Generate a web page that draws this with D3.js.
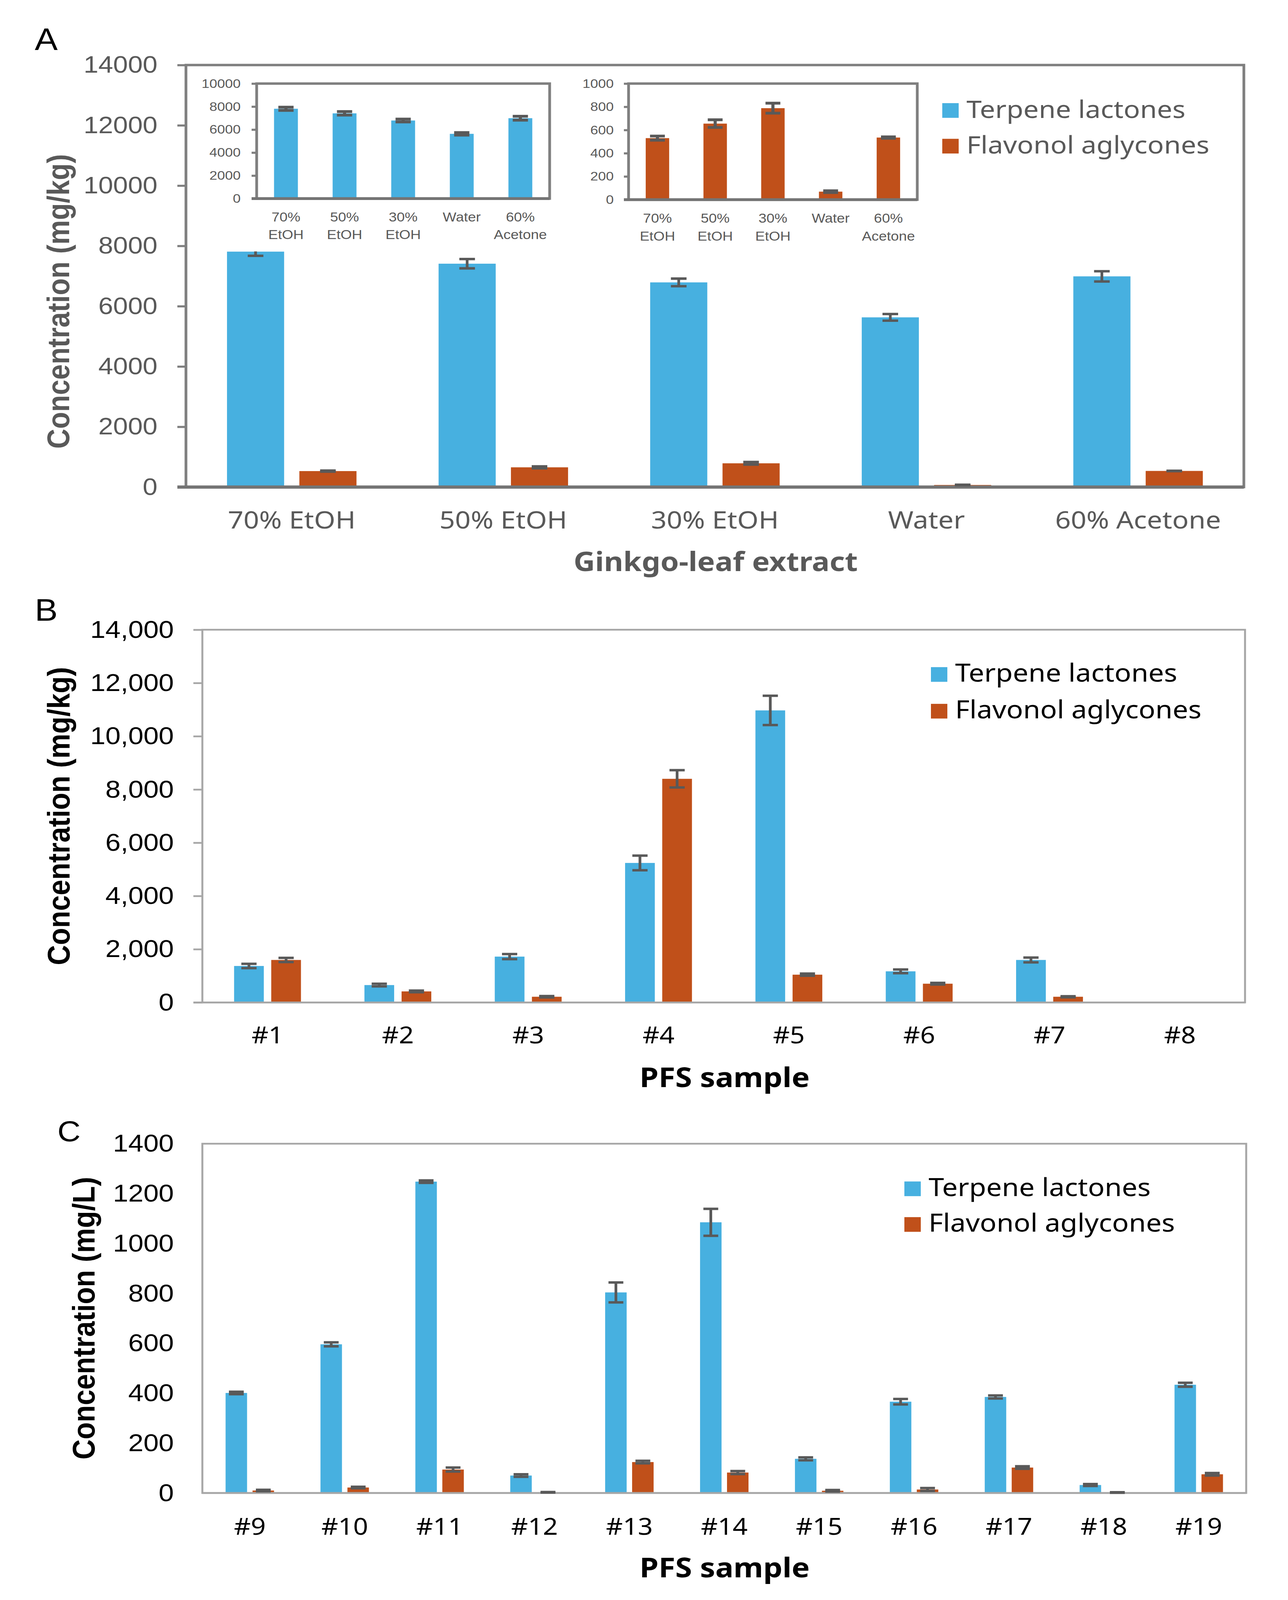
<!DOCTYPE html>
<html>
<head>
<meta charset="utf-8">
<script src="https://cdn.jsdelivr.net/npm/d3@7"></script>
<style>
  html, body { margin: 0; padding: 0; background: #ffffff; overflow: hidden; }
  svg { display: block; }
</style>
</head>
<body>
<svg id="fig"></svg>
<script>
// ---------------- DATA ----------------
const seriesNames = ["Terpene lactones", "Flavonol aglycones"];

// Panel A – Ginkgo-leaf extracts (mg/kg)
const extractCategories = ["70% EtOH", "50% EtOH", "30% EtOH", "Water", "60% Acetone"];
const extractInsetLine1 = ["70%", "50%", "30%", "Water", "60%"];
const extractInsetLine2 = ["EtOH", "EtOH", "EtOH", "", "Acetone"];
const extractTerpene    = [7810, 7410, 6790, 5630, 6990];
const extractTerpeneErr = [140, 155, 125, 110, 170];
const extractFlavonol    = [530, 655, 788, 69, 535];
const extractFlavonolErr = [18, 33, 43, 8, 6];
const extractTicks       = [0, 2000, 4000, 6000, 8000, 10000, 12000, 14000];
const extractInsetTTicks = [0, 2000, 4000, 6000, 8000, 10000];
const extractInsetFTicks = [0, 200, 400, 600, 800, 1000];

// Panel B – PFS samples #1–#8 (mg/kg)
const solidCategories   = ["#1", "#2", "#3", "#4", "#5", "#6", "#7", "#8"];
const solidTerpene      = [1370, 653, 1722, 5240, 10970, 1169, 1596, null];
const solidTerpeneErr   = [80, 50, 95, 275, 550, 70, 90, null];
const solidFlavonol     = [1596, 415, 214, 8400, 1043, 704, 214, null];
const solidFlavonolErr  = [80, 30, 25, 325, 40, 30, 20, null];
const solidTicks        = [0, 2000, 4000, 6000, 8000, 10000, 12000, 14000];

// Panel C – PFS samples #9–#19 (mg/L)
const liquidCategories  = ["#9", "#10", "#11", "#12", "#13", "#14", "#15", "#16", "#17", "#18", "#19"];
const liquidTerpene     = [401, 596, 1248, 70, 804, 1085, 137, 366, 385, 32, 434];
const liquidTerpeneErr  = [5, 8, 5, 5, 40, 54, 6, 11, 6, 4, 8];
const liquidFlavonol    = [10, 22, 94, 3, 124, 82, 9, 14, 102, 2, 75];
const liquidFlavonolErr = [3, 3, 8, 1, 5, 6, 3, 6, 5, 1, 5];
const liquidTicks       = [0, 200, 400, 600, 800, 1000, 1200, 1400];

// ---------------- STYLE ----------------
const BLUE = "#47B0E0", ORANGE = "#C0501A", ERRC = "#595959";
const GREY_TXT = "#595959";
const ARIAL = "'Liberation Sans', Arial, sans-serif";
const APTOS = "'Noto Sans', 'Open Sans', sans-serif";
const W = 3297, H = 4576;

// The drawing is laid out in a 3297 x 4576 coordinate system and fitted to the window.
const vw = window.innerWidth || W, vh = window.innerHeight || H;
const svg = d3.select("#fig")
  .attr("width", vw).attr("height", vh)
  .attr("viewBox", `0 0 ${W} ${H}`)
  .attr("preserveAspectRatio", "none");
svg.append("rect").attr("width", W).attr("height", H).attr("fill", "#ffffff");

function text(g, s, x, y, o) {
  const t = g.append("text").attr("x", x).attr("y", y).text(s)
    .attr("font-family", o.family || ARIAL)
    .attr("font-size", o.size)
    .attr("fill", o.color || "#000")
    .attr("text-anchor", o.anchor || "start");
  if (o.weight) t.attr("font-weight", o.weight);
  if (o.transform) t.attr("transform", o.transform);
  return t;
}

function barChart(g, o) {
  const x = d3.scaleBand().domain(o.cats).range([o.left, o.right]);
  const y = d3.scaleLinear().domain([0, o.max]).range([o.bottom, o.top]);
  const bw = x.bandwidth();
  const barW = bw * o.barFrac, gap = bw * o.gapFrac;
  const groupW = o.series.length * barW + (o.series.length - 1) * gap;

  if (o.background) {
    g.append("rect").attr("x", o.background[0]).attr("y", o.background[1])
      .attr("width", o.background[2]).attr("height", o.background[3]).attr("fill", "#ffffff");
  }

  const rows = o.series.map((s, si) => {
    const off = (bw - groupW) / 2 + si * (barW + gap);
    return o.cats.map((c, i) => ({ c, v: s.values[i], e: s.errors[i], off, color: s.color }))
      .filter(d => d.v != null);
  });

  rows.forEach(data => {
    g.append("g").selectAll("rect").data(data).join("rect")
      .attr("x", d => x(d.c) + d.off).attr("width", barW)
      .attr("y", d => y(d.v)).attr("height", d => y(0) - y(d.v))
      .attr("fill", d => d.color);
  });

  // y axis ticks + labels
  const ax = d3.axisLeft(y).tickValues(o.ticks).tickFormat(o.fmt)
    .tickSize(o.tickLen).tickPadding(o.pad).tickSizeOuter(0);
  const axg = g.append("g").attr("transform", `translate(${o.left},0)`).call(ax);
  axg.select(".domain").remove();
  axg.selectAll(".tick line").attr("stroke", o.tickColor).attr("stroke-width", o.tickW);
  axg.selectAll(".tick text").attr("font-family", o.tickFamily).attr("font-size", o.tickSize)
    .attr("fill", o.tickText);
  axg.attr("font-size", null).attr("font-family", null);

  // frame
  g.append("rect").attr("x", o.left).attr("y", o.top)
    .attr("width", o.right - o.left).attr("height", o.bottom - o.top)
    .attr("fill", "none").attr("stroke", o.frameColor).attr("stroke-width", o.frameW);
  g.append("line").attr("x1", o.left - (o.tickLen || 0)).attr("x2", o.right)
    .attr("y1", o.bottom).attr("y2", o.bottom)
    .attr("stroke", o.axisColor).attr("stroke-width", o.axisW);

  // error bars
  const capW = o.capW;
  rows.forEach(data => {
    const eg = g.append("g").attr("stroke", ERRC).attr("stroke-width", o.errW);
    const withErr = data.filter(d => d.e != null);
    eg.selectAll("line.stem").data(withErr).join("line").attr("class", "stem")
      .attr("x1", d => x(d.c) + d.off + barW / 2).attr("x2", d => x(d.c) + d.off + barW / 2)
      .attr("y1", d => y(d.v + d.e)).attr("y2", d => y(Math.max(0, d.v - d.e)));
    eg.selectAll("line.capHi").data(withErr).join("line").attr("class", "capHi")
      .attr("x1", d => x(d.c) + d.off + barW / 2 - capW / 2).attr("x2", d => x(d.c) + d.off + barW / 2 + capW / 2)
      .attr("y1", d => y(d.v + d.e)).attr("y2", d => y(d.v + d.e));
    eg.selectAll("line.capLo").data(withErr).join("line").attr("class", "capLo")
      .attr("x1", d => x(d.c) + d.off + barW / 2 - capW / 2).attr("x2", d => x(d.c) + d.off + barW / 2 + capW / 2)
      .attr("y1", d => y(Math.max(0, d.v - d.e))).attr("y2", d => y(Math.max(0, d.v - d.e)));
  });

  // category labels
  if (o.catLabels) {
    o.catLabels.forEach((lines, i) => {
      lines.forEach((s, li) => {
        if (!s) return;
        text(g, s, x(o.cats[i]) + bw / 2, o.labelY[li], {
          family: o.labelFamily, size: o.labelSize, color: o.labelColor, anchor: "middle"
        });
      });
    });
  }
  return { x, y };
}

function legend(g, x, yTops, size, family, fsize, color) {
  const items = [{ name: seriesNames[0], color: BLUE }, { name: seriesNames[1], color: ORANGE }];
  items.forEach((it, i) => {
    g.append("rect").attr("x", x).attr("y", yTops[i]).attr("width", size).attr("height", size).attr("fill", it.color);
    text(g, it.name, x + size + 20, yTops[i] + size, { family, size: fsize, color });
  });
}

// ================= PANEL A =================
const gA = svg.append("g");
text(gA, "A", 89, 143, { size: 88, color: "#000" });
barChart(gA, {
  cats: extractCategories, left: 476, right: 3184, top: 186, bottom: 1393, max: 14000,
  series: [
    { values: extractTerpene, errors: extractTerpeneErr, color: BLUE },
    { values: extractFlavonol, errors: extractFlavonolErr, color: ORANGE }
  ],
  barFrac: 0.27, gapFrac: 0.072,
  ticks: extractTicks, fmt: d3.format("d"), tickLen: 22, pad: 51, tickColor: "#7f7f7f", tickW: 6,
  tickFamily: ARIAL, tickSize: 68, tickText: GREY_TXT,
  frameColor: "#7f7f7f", frameW: 7, axisColor: "#747474", axisW: 9,
  capW: 40, errW: 7,
  catLabels: extractCategories.map(c => [c]), labelY: [1512], labelFamily: APTOS, labelSize: 70, labelColor: GREY_TXT
});
text(gA, "Concentration (mg/kg)", 0, 0, {
  size: 79, weight: "bold", color: GREY_TXT, anchor: "middle", transform: "translate(177,862) rotate(-90)"
});
text(gA, "Ginkgo-leaf extract", 1832, 1633, { family: APTOS, size: 76, weight: "bold", color: GREY_TXT, anchor: "middle" });
legend(gA, 2412, [295, 397], 42, APTOS, 70, GREY_TXT);

// Inset 1 – terpene lactones
const gI1 = svg.append("g");
barChart(gI1, {
  cats: extractCategories, left: 657, right: 1407, top: 239, bottom: 568, max: 10000,
  background: [500, 198, 930, 521],
  series: [{ values: extractTerpene, errors: extractTerpeneErr, color: BLUE }],
  barFrac: 0.407, gapFrac: 0,
  ticks: extractInsetTTicks, fmt: d3.format("d"), tickLen: 13, pad: 28, tickColor: "#7f7f7f", tickW: 6,
  tickFamily: ARIAL, tickSize: 36, tickText: GREY_TXT,
  frameColor: "#7f7f7f", frameW: 7, axisColor: "#747474", axisW: 8,
  capW: 39, errW: 8,
  catLabels: extractCategories.map((c, i) => [extractInsetLine1[i], extractInsetLine2[i]]),
  labelY: [633, 684], labelFamily: ARIAL, labelSize: 37, labelColor: GREY_TXT
});

// Inset 2 – flavonol aglycones
const gI2 = svg.append("g");
barChart(gI2, {
  cats: extractCategories, left: 1609, right: 2348, top: 239, bottom: 571, max: 1000,
  background: [1520, 198, 850, 521],
  series: [{ values: extractFlavonol, errors: extractFlavonolErr, color: ORANGE }],
  barFrac: 0.406, gapFrac: 0,
  ticks: extractInsetFTicks, fmt: d3.format("d"), tickLen: 12, pad: 26, tickColor: "#7f7f7f", tickW: 6,
  tickFamily: ARIAL, tickSize: 36, tickText: GREY_TXT,
  frameColor: "#7f7f7f", frameW: 7, axisColor: "#747474", axisW: 8,
  capW: 38, errW: 8,
  catLabels: extractCategories.map((c, i) => [extractInsetLine1[i], extractInsetLine2[i]]),
  labelY: [637, 688], labelFamily: ARIAL, labelSize: 37, labelColor: GREY_TXT
});

// ================= PANEL B =================
const gB = svg.append("g");
text(gB, "B", 89, 1775, { size: 88, color: "#000" });
barChart(gB, {
  cats: solidCategories, left: 518, right: 3187, top: 1801, bottom: 2867, max: 14000,
  series: [
    { values: solidTerpene, errors: solidTerpeneErr, color: BLUE },
    { values: solidFlavonol, errors: solidFlavonolErr, color: ORANGE }
  ],
  barFrac: 0.228, gapFrac: 0.057,
  ticks: solidTicks, fmt: d3.format(","), tickLen: 23, pad: 50, tickColor: "#a6a6a6", tickW: 5,
  tickFamily: ARIAL, tickSize: 70, tickText: "#000",
  frameColor: "#a6a6a6", frameW: 5, axisColor: "#a6a6a6", axisW: 5,
  capW: 39, errW: 7,
  catLabels: solidCategories.map(c => [c]), labelY: [2984], labelFamily: APTOS, labelSize: 67, labelColor: "#000"
});
text(gB, "Concentration (mg/kg)", 0, 0, {
  size: 80, weight: "bold", color: "#000", anchor: "middle", transform: "translate(178,2334) rotate(-90)"
});
text(gB, "PFS sample", 1855, 3109, { family: APTOS, size: 78, weight: "bold", color: "#000", anchor: "middle" });
legend(gB, 2383, [1908, 2013], 42, APTOS, 71, "#000");

// ================= PANEL C =================
const gC = svg.append("g");
text(gC, "C", 147, 3264, { size: 82, color: "#000" });
barChart(gC, {
  cats: liquidCategories, left: 518, right: 3190, top: 3271, bottom: 4270, max: 1400,
  series: [
    { values: liquidTerpene, errors: liquidTerpeneErr, color: BLUE },
    { values: liquidFlavonol, errors: liquidFlavonolErr, color: ORANGE }
  ],
  barFrac: 0.2265, gapFrac: 0.0576,
  ticks: liquidTicks, fmt: d3.format("d"), tickLen: 0, pad: 73, tickColor: "#a6a6a6", tickW: 5,
  tickFamily: ARIAL, tickSize: 70, tickText: "#000",
  frameColor: "#a6a6a6", frameW: 5, axisColor: "#a6a6a6", axisW: 5,
  capW: 38, errW: 7,
  catLabels: liquidCategories.map(c => [c]), labelY: [4389], labelFamily: APTOS, labelSize: 67, labelColor: "#000"
});
text(gC, "Concentration (mg/L)", 0, 0, {
  size: 80, weight: "bold", color: "#000", anchor: "middle", transform: "translate(242,3770) rotate(-90)"
});
text(gC, "PFS sample", 1855, 4511, { family: APTOS, size: 78, weight: "bold", color: "#000", anchor: "middle" });
legend(gC, 2315, [3379, 3481], 42, APTOS, 71, "#000");
</script>
</body>
</html>
